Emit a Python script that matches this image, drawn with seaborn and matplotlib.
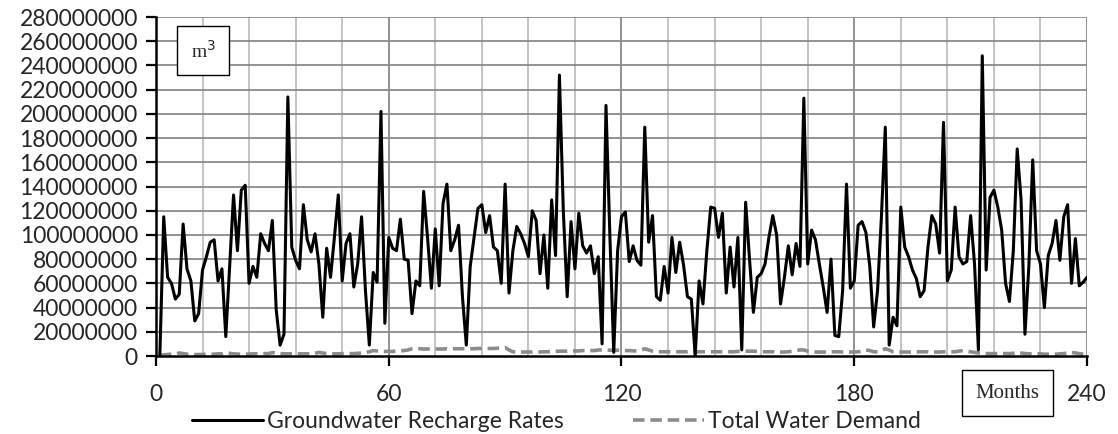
import matplotlib
matplotlib.use("Agg")
import matplotlib.pyplot as plt
import seaborn as sns
import numpy as np
import pandas as pd

# monthly values (m3), in millions
recharge_m = [
    0, 115, 65, 60, 47, 51, 109, 72, 62, 29, 35, 71,
    82, 94, 96, 62, 72, 16, 74, 133, 87, 137, 141, 60,
    74, 65, 101, 93, 87, 112, 38, 9, 18, 214, 90, 79,
    72, 125, 96, 86, 101, 76, 32, 89, 65, 98, 133, 62,
    93, 101, 57, 76, 115, 54, 9, 69, 61, 202, 27, 98,
    89, 87, 113, 80, 79, 35, 62, 58, 136, 98, 56, 105,
    58, 126, 142, 87, 96, 108, 49, 9, 74, 98, 122, 125,
    102, 116, 90, 87, 60, 142, 52, 87, 107, 101, 93, 82,
    120, 112, 68, 100, 56, 129, 83, 232, 120, 49, 111, 72,
    118, 91, 85, 91, 68, 82, 10, 207, 100, 3, 87, 115,
    119, 78, 91, 79, 75, 189, 94, 116, 49, 46, 74, 52,
    98, 69, 94, 75, 49, 47, 0, 62, 43, 87, 123, 122,
    98, 118, 52, 90, 57, 98, 5, 127, 80, 36, 65, 68,
    76, 98, 116, 100, 43, 65, 91, 67, 93, 74, 213, 76,
    104, 96, 76, 57, 36, 80, 17, 16, 54, 142, 56, 62,
    108, 111, 102, 74, 24, 54, 115, 189, 9, 32, 25, 123,
    90, 82, 71, 64, 49, 54, 90, 116, 109, 85, 193, 62,
    71, 123, 82, 76, 78, 116, 76, 5, 248, 71, 131, 137,
    123, 104, 60, 45, 87, 171, 129, 18, 74, 162, 87, 76,
    40, 83, 93, 112, 79, 115, 125, 60, 97, 58, 61, 65,
]
demand_m = [
    0.5, 1.0, 1.3, 1.5, 1.5, 2.5, 2.0, 1.5, 1.2, 1.2, 1.2, 1.3,
    1.5, 1.5, 1.5, 1.8, 1.8, 2.5, 2.2, 1.8, 1.6, 1.5, 1.5, 1.6,
    1.8, 1.8, 1.8, 2.0, 2.0, 2.8, 2.5, 2.0, 1.8, 1.8, 1.8, 1.8,
    1.8, 1.8, 1.8, 2.0, 2.2, 3.0, 2.5, 2.0, 1.8, 1.8, 1.8, 2.0,
    2.0, 2.0, 2.0, 2.2, 2.5, 3.0, 3.5, 4.5, 4.2, 4.0, 3.8, 3.8,
    3.8, 4.0, 4.2, 4.5, 5.0, 6.0, 6.2, 6.0, 5.8, 5.8, 5.8, 5.8,
    5.8, 5.8, 6.0, 6.0, 6.0, 6.0, 6.0, 6.0, 6.0, 6.0, 6.2, 6.2,
    6.2, 6.2, 6.2, 6.5, 6.5, 7.0, 5.0, 3.5, 3.3, 3.3, 3.3, 3.3,
    3.3, 3.3, 3.3, 3.5, 3.5, 3.5, 3.8, 4.0, 4.0, 4.0, 4.2, 4.2,
    4.2, 4.5, 4.5, 4.5, 4.5, 5.0, 5.0, 5.0, 4.8, 4.8, 4.8, 4.8,
    4.5, 4.5, 4.2, 4.2, 5.0, 6.0, 5.0, 4.0, 3.5, 3.5, 3.5, 3.5,
    3.5, 3.5, 3.5, 3.5, 3.5, 3.8, 3.5, 3.5, 3.5, 3.5, 3.5, 3.5,
    3.5, 3.5, 3.5, 3.5, 3.5, 3.8, 4.0, 4.0, 4.0, 4.0, 3.8, 3.5,
    3.5, 3.5, 3.5, 3.3, 3.3, 3.3, 3.5, 4.0, 4.5, 5.0, 5.0, 4.0,
    3.5, 3.3, 3.3, 3.3, 3.3, 3.5, 3.5, 3.5, 3.3, 3.3, 3.3, 3.3,
    3.5, 4.0, 5.0, 4.5, 3.5, 3.5, 4.5, 6.0, 5.0, 3.5, 3.3, 3.3,
    3.3, 3.3, 3.3, 3.3, 3.5, 3.5, 3.5, 3.3, 3.3, 3.3, 3.5, 3.5,
    3.5, 3.5, 4.0, 4.5, 4.0, 3.5, 3.0, 2.5, 2.0, 2.0, 2.0, 2.0,
    2.0, 2.0, 2.0, 2.0, 2.2, 3.0, 2.5, 2.0, 1.8, 1.8, 1.8, 1.8,
    1.5, 1.5, 1.5, 1.5, 1.8, 2.0, 2.5, 3.0, 2.5, 2.0, 1.5, 1.5,
]
months = list(range(1, len(recharge_m) + 1))

df = pd.DataFrame({
    "month": months,
    "recharge": np.array(recharge_m) * 1e6,
    "demand": np.array(demand_m) * 1e6,
})

sns.set_style("white")
plt.rcParams["font.family"] = ["Lato", "DejaVu Sans"]

fig = plt.figure(figsize=(11.18, 4.34), dpi=100)
ax = fig.add_axes([0.1395, 0.1797, 0.8328, 0.7811])

# grid first so the data sits on top
for x in range(12, 241, 12):
    ax.axvline(x, color="#8a8a8a" if x % 60 == 0 else "#bfbfbf", lw=1.3, zorder=0)
for y in range(20_000_000, 280_000_001, 20_000_000):
    ax.axhline(y, color="#8a8a8a", lw=1.3, zorder=0)

sns.lineplot(data=df, x="month", y="recharge", ax=ax, color="black", lw=2.2,
             label="Groundwater Recharge Rates", zorder=3)
sns.lineplot(data=df, x="month", y="demand", ax=ax, color="#8c8c8c", lw=2.6,
             linestyle=(0, (3.2, 1.6)), label="Total Water Demand", zorder=2)

ax.set_xlim(0, 240)
ax.set_ylim(0, 280_000_000)
ax.set_xticks([0, 60, 120, 180, 240])
ax.set_yticks(range(0, 280_000_001, 20_000_000))
ax.yaxis.set_major_formatter(matplotlib.ticker.FuncFormatter(lambda v, p: f"{int(v)}"))
ax.set_xlabel("")
ax.set_ylabel("")
ax.tick_params(axis="both", labelsize=16.5, length=7, width=1.6, direction="out",
               color="black", left=True, bottom=True)
ax.tick_params(axis="x", pad=13)
ax.tick_params(axis="y", pad=6)

for side in ["top", "right"]:
    ax.spines[side].set_visible(False)
for side in ["left", "bottom"]:
    ax.spines[side].set_color("black")
    ax.spines[side].set_linewidth(1.8)
    ax.spines[side].set_zorder(4)

ax.legend(loc="upper center", bbox_to_anchor=(0.43, -0.135), ncol=2, frameon=False,
          fontsize=16.5, handlelength=3.1, handletextpad=0.2, columnspacing=3.0,
          borderaxespad=0)

ax.text(0.0505, 0.90, "m$^3$", transform=ax.transAxes, fontsize=14,
        family="Liberation Serif", ha="center", va="center",
        bbox=dict(boxstyle="square,pad=0.7", fc="white", ec="black", lw=1), zorder=5)
fig.text(0.901, 0.094, "Months", fontsize=15, family="Liberation Serif",
         ha="center", va="center",
         bbox=dict(boxstyle="square,pad=0.65", fc="white", ec="black", lw=1))

fig.savefig("out.png", dpi=100)
